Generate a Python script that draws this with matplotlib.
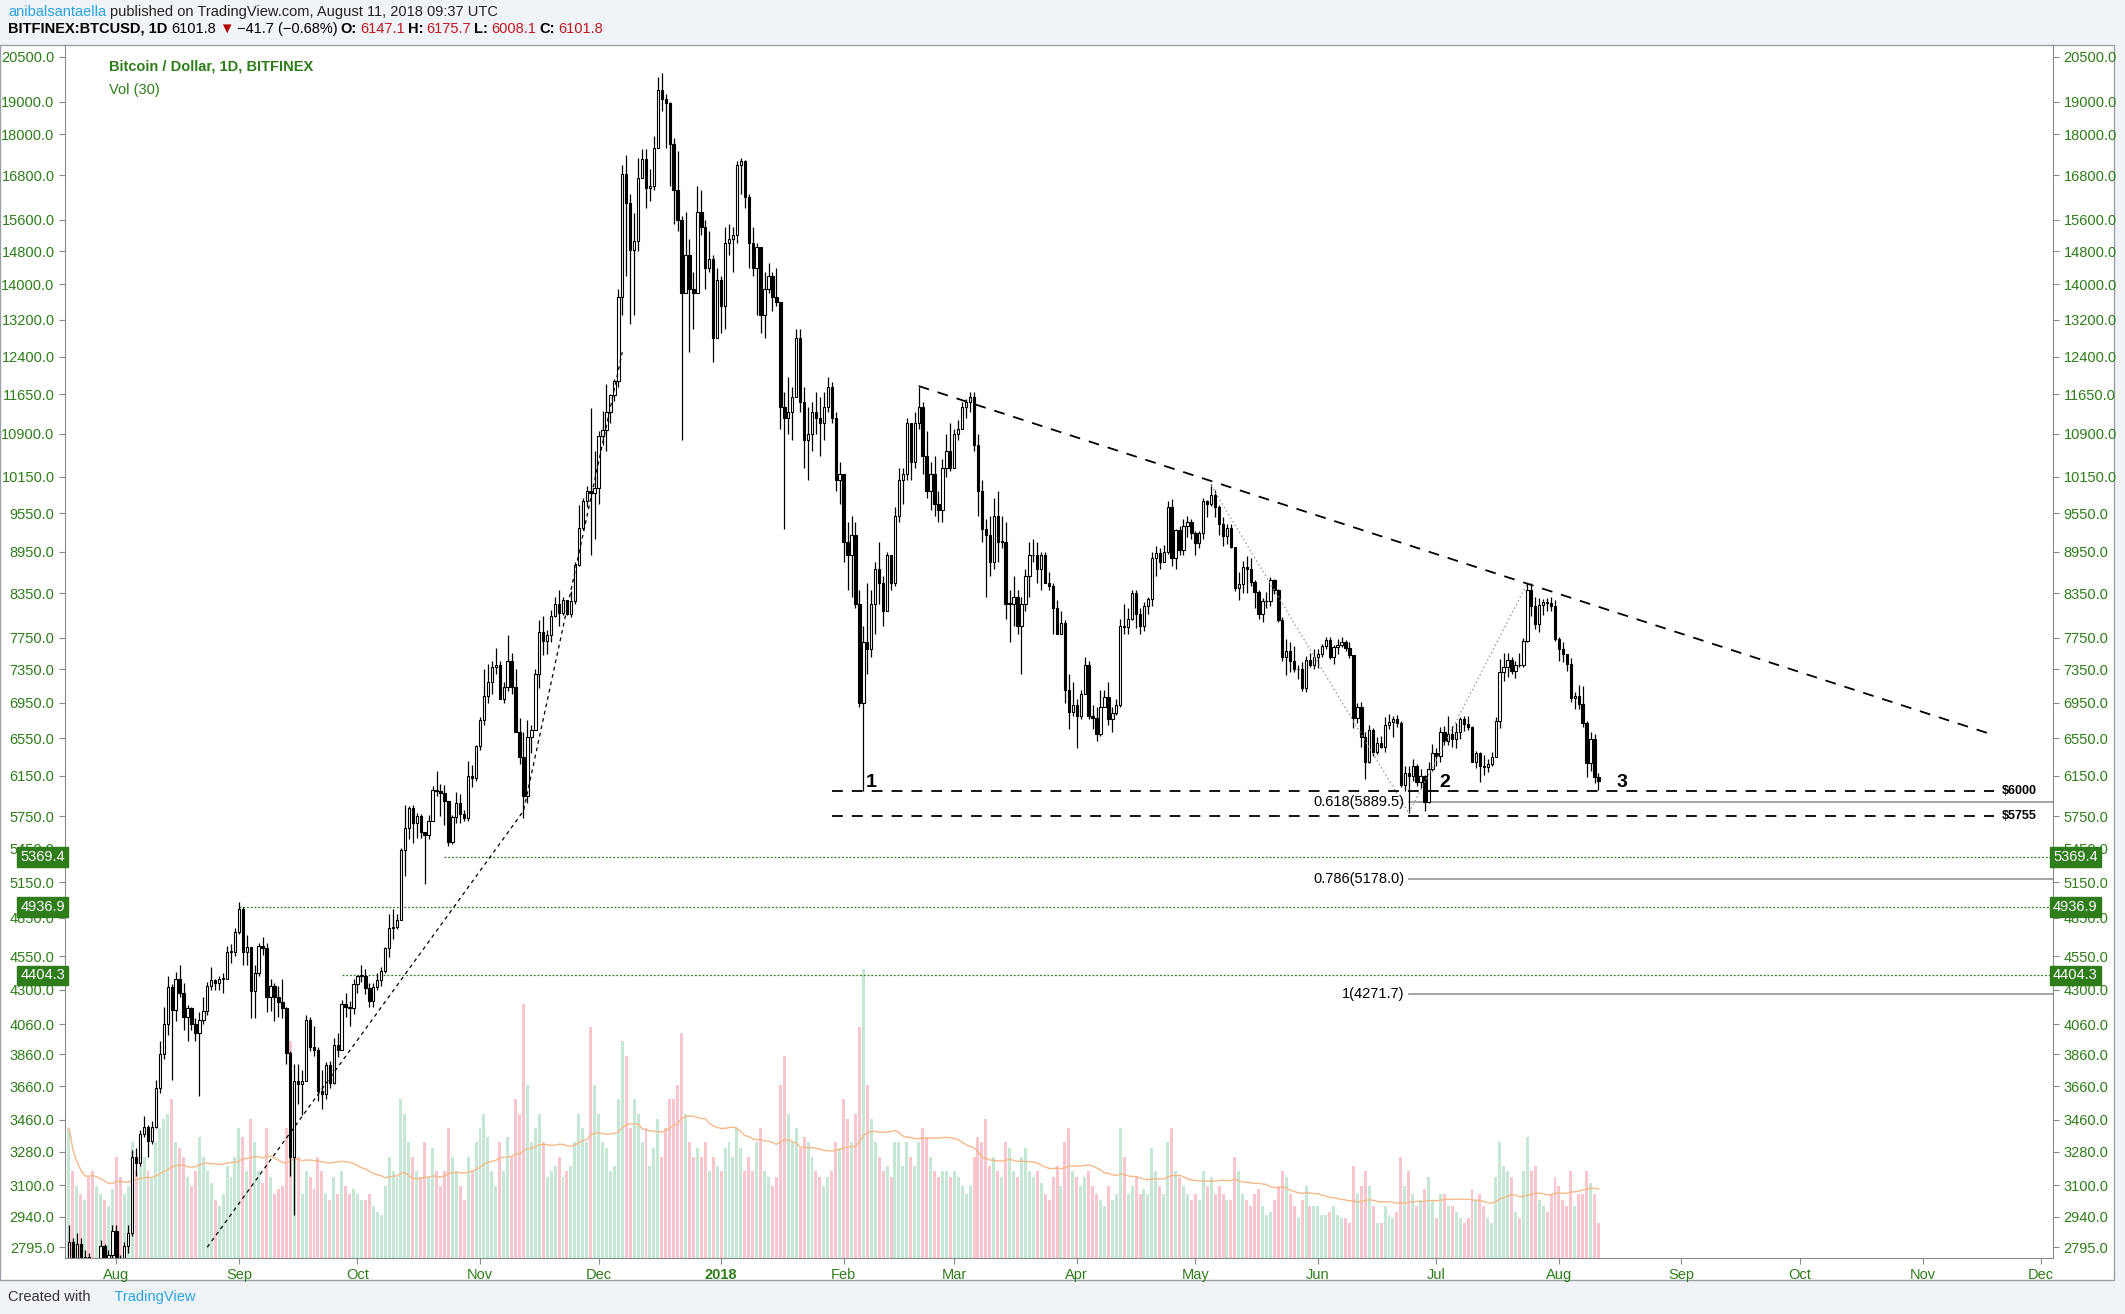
import matplotlib
matplotlib.use("Agg")
import matplotlib.pyplot as plt
import matplotlib.dates as mdates
import matplotlib.transforms as mtrans
from matplotlib.patches import Rectangle
import numpy as np
import datetime as dt

# ---------------- DATA ----------------
start_date = dt.date(2017, 7, 20)
first_open = 2660

close_2017_07 = [2820,2670,2810,2730,2750,2580,2540,2680,2800,2720,2760,2870]
high_2017_07 = [2900,2840,2860,2840,2780,2770,2600,2700,2830,2810,2780,2900]
low_2017_07 = [2620,2620,2650,2700,2700,2540,2480,2520,2660,2680,2650,2740]
close_2017_08 = [2720,2710,2800,2860,3250,3220,3380,3420,3340,3420,3650,3860,4060,4320,4160,4380,4280,4110,4170,4060,4000,4090,4150,4330,4370,4350,4380,4380,4580,4580,4740]
high_2017_08 = [2900,2760,2820,2900,3290,3300,3400,3480,3430,3450,3700,3950,4180,4400,4340,4430,4480,4350,4190,4180,4100,4140,4250,4360,4470,4380,4400,4420,4630,4640,4770]
low_2017_08 = [2680,2650,2690,2770,2850,3150,3200,3360,3250,3320,3410,3620,3830,3990,3700,4080,4250,4020,3950,4020,3950,3600,4060,4120,4300,4300,4300,4280,4380,4500,4550]
close_2017_09 = [4920,4580,4620,4290,4420,4630,4610,4250,4330,4250,4210,4170,3870,3250,3690,3670,3690,4090,3910,3890,3630,3610,3790,3680,3920,3890,4200,4180,4170,4340]
high_2017_09 = [4980,4940,4710,4620,4480,4650,4700,4650,4380,4350,4330,4380,4180,3880,3800,3800,3760,4120,4110,4050,3910,3760,3810,3820,3970,4000,4230,4280,4220,4380]
low_2017_09 = [4720,4480,4480,4100,4100,4400,4560,4140,4150,4080,4110,4100,3800,3150,2950,3550,3490,3690,3880,3850,3570,3520,3580,3650,3670,3840,3890,4110,4050,4130]
close_2017_10 = [4400,4400,4310,4220,4320,4370,4440,4610,4770,4780,4830,5430,5640,5830,5680,5750,5600,5570,5700,6010,6000,5980,5900,5510,5740,5880,5770,5730,6150,6130,6470]
high_2017_10 = [4410,4480,4450,4350,4350,4420,4470,4620,4880,4920,4880,5450,5860,5850,5860,5780,5770,5600,5760,6050,6200,6070,6060,5900,5760,5990,5970,5810,6310,6260,6480]
low_2017_10 = [4280,4360,4270,4180,4180,4300,4330,4420,4540,4680,4760,4840,5200,5530,5500,5540,5540,5130,5530,5710,5950,5750,5670,5470,5490,5680,5680,5700,5700,6040,6100]
close_2017_11 = [6750,7030,7200,7380,7410,6990,7140,7460,7140,6620,6350,5950,6560,6640,7300,7820,7710,7790,8040,8200,8080,8250,8070,8240,8760,9320,9740,9900,9870,9950]
high_2017_11 = [6790,7350,7420,7460,7620,7460,7200,7790,7560,7350,6780,6620,6750,6700,7350,7990,8040,7850,8120,8300,8390,8300,8260,8380,8800,9680,9800,9990,11380,10600]
low_2017_11 = [6420,6700,6950,7060,7300,6990,6950,7090,7050,6620,6270,5730,5880,6390,6650,7130,7530,7540,7700,8020,7900,8050,8050,8030,8200,8740,9280,9650,8900,9150]
close_2017_12 = [10860,10980,11310,11640,11910,13720,16850,16050,14840,15060,16730,17280,16460,16500,17600,19400,19100,18960,17700,16400,15600,13800,14700,13900,13800,15800,15400,14400,14600,12800,14100]
high_2017_12 = [10960,11320,11850,11650,11960,13890,17100,17400,16300,15780,17300,17550,17550,16980,17950,19800,19950,19250,19000,17900,17500,15700,15800,15100,14300,16500,16400,15600,15300,14700,14400]
low_2017_12 = [9700,10700,10600,11100,11520,11800,13300,14200,13100,13300,14800,16750,15900,16100,16400,17600,18700,17600,16500,15500,15300,10800,13800,12500,13000,13800,15200,13900,14300,12300,12900]
close_2018_01 = [13500,15000,15100,15200,17100,17200,16200,15000,14400,14900,13300,13900,14200,13700,13600,11400,11200,11300,11600,12800,11500,10800,10900,11300,11200,11100,11400,11800,11200,10100,10200]
high_2018_01 = [14200,15400,15500,15400,17200,17300,17250,16300,15400,15000,14900,14300,14500,14300,14400,13600,11700,12000,11800,13000,13000,11800,11400,11500,11700,11600,11700,12000,11900,11300,10400]
low_2018_01 = [12900,13000,14700,14300,15000,16300,15900,14400,14200,13300,12900,12800,13800,13400,13500,11000,9300,10900,10800,11600,11300,10300,10100,10600,10900,10500,10800,11300,11100,9900,9700]
close_2018_02 = [9100,8900,9200,8200,6950,7700,7600,8200,8700,8500,8100,8900,8500,9500,10100,10200,11100,10400,11100,11400,10500,9900,10200,9700,9600,10300,10600,10300]
high_2018_02 = [10200,9400,9500,9400,8400,7900,8500,8400,8800,9100,8600,8950,8900,9650,10300,10300,11200,11100,11300,11790,11500,10950,10400,10500,9900,10450,10900,11100]
low_2018_02 = [8800,8400,8300,8150,6900,6000,7300,7500,7800,8200,7900,8100,8400,8450,9400,9700,10100,10100,10300,11000,10200,9800,9600,9500,9400,9400,10150,10250]
close_2018_03 = [10900,11000,11400,11500,11600,10700,9900,9300,9200,8800,9500,9100,9100,8200,8200,8300,7900,8200,8600,8900,8900,8700,8900,8500,8450,8150,7800,7950,7100,6850,6930]
high_2018_03 = [11000,11150,11500,11550,11700,11700,10900,10100,9450,9500,9800,9900,9500,9400,8400,8600,8400,8300,8700,9100,9150,9100,8950,8950,8650,8500,8250,8100,7980,7300,7200]
low_2018_03 = [10300,10800,11000,11200,11300,10600,9500,9100,8300,8600,8700,8800,9000,8000,7700,7900,7800,7300,8100,8300,8800,8500,8400,8500,8400,7800,7800,7800,6950,6650,6800]
close_2018_04 = [6800,7050,7400,6800,6780,6600,6900,7020,6770,6830,6930,7900,7890,8000,8350,8060,7900,8170,8270,8860,8930,8800,8940,9650,8860,9280,8980,9350,9400,9240]
high_2018_04 = [7000,7100,7500,7450,6930,6900,7100,7100,7200,6900,7000,8000,8200,8150,8400,8400,8150,8230,8300,8950,9040,9000,9050,9750,9770,9290,9350,9450,9500,9460]
low_2018_04 = [6450,6760,7050,6760,6650,6520,6580,6900,6700,6620,6810,6900,7800,7800,7980,7880,7800,7840,8060,8180,8600,8700,8820,8920,8740,8700,8900,8900,9170,9150]
close_2018_05 = [9080,9230,9740,9700,9850,9650,9370,9190,9310,9020,8430,8480,8720,8690,8510,8370,8060,8240,8240,8530,8400,7990,7500,7580,7460,7350,7360,7130,7470,7400,7500]
high_2018_05 = [9260,9260,9800,9760,10020,9930,9680,9480,9370,9380,9020,8650,8810,8880,8850,8530,8400,8290,8370,8580,8550,8410,8030,7740,7690,7640,7400,7440,7520,7550,7600]
low_2018_05 = [8900,9010,9150,9480,9660,9480,9200,9040,9070,9000,8380,8250,8350,8350,8450,8150,8000,7960,8150,8180,8340,7960,7450,7280,7320,7320,7230,7090,7080,7380,7360]
close_2018_06 = [7540,7640,7720,7500,7630,7660,7690,7620,7530,6780,6900,6560,6300,6640,6400,6500,6460,6700,6730,6760,6720,6060,6180,6150,6250,6090,6150,5890,6220,6390]
high_2018_06 = [7600,7670,7760,7760,7660,7740,7760,7720,7690,7530,6950,6960,6620,6700,6660,6560,6580,6790,6820,6800,6810,6740,6250,6250,6330,6270,6220,6160,6300,6490]
low_2018_06 = [7370,7500,7600,7480,7420,7540,7630,7580,7490,6660,6720,6460,6120,6280,6360,6380,6440,6400,6650,6560,6680,6040,6000,5780,6100,6050,6030,5800,5880,6200]
close_2018_07 = [6360,6620,6520,6600,6540,6620,6760,6710,6670,6300,6390,6250,6240,6270,6350,6740,7320,7380,7470,7330,7410,7400,7710,8400,8170,7930,8190,8230,8220,8180,7730]
high_2018_07 = [6440,6680,6690,6800,6690,6720,6790,6800,6800,6690,6410,6400,6370,6330,6400,6790,7480,7560,7560,7510,7450,7560,7750,8490,8490,8300,8290,8270,8290,8300,8250]
low_2018_07 = [6250,6300,6480,6480,6460,6450,6540,6630,6640,6300,6230,6090,6160,6190,6250,6350,6660,7210,7260,7290,7240,7380,7380,7700,8040,7860,7830,8050,8110,8100,7710]
close_2018_08 = [7600,7540,7420,7010,7030,6940,6720,6280,6540,6140,6101.8]
high_2018_08 = [7760,7690,7540,7490,7080,7160,7150,6740,6620,6600,6175.7]
low_2018_08 = [7450,7440,7330,6960,6880,6880,6680,6140,6200,6080,6008.1]

vol_2017_07 = [45,30,25,22,20,28,30,25,22,20,18,24]
vol_2017_08 = [35,28,22,25,40,30,32,35,30,28,40,45,48,50,55,40,38,35,28,25,30,42,35,30,26,20,18,22,32,28,35]
vol_2017_09 = [45,42,30,48,40,30,26,45,28,22,24,25,45,75,60,35,22,30,28,24,35,30,22,20,28,22,30,25,22,24]
vol_2017_10 = [22,20,20,22,18,16,15,25,35,30,28,55,50,40,35,30,28,40,28,38,30,25,30,45,35,30,25,20,35,30,40]
vol_2017_11 = [45,50,42,30,25,40,30,42,35,55,50,88,60,40,45,50,40,28,30,32,35,28,30,32,40,50,45,40,80,60]
vol_2017_12 = [50,40,38,30,32,55,75,70,45,55,50,40,45,32,38,48,35,45,55,55,60,78,50,40,35,38,35,40,30,35,32]
vol_2018_01 = [30,38,40,35,45,38,30,35,30,40,45,30,28,25,28,60,70,50,40,45,38,42,40,35,30,28,25,28,30,40,38]
vol_2018_02 = [55,48,40,50,80,100,60,48,40,35,30,32,28,40,40,32,40,35,32,40,45,42,35,30,28,30,30,28]
vol_2018_03 = [30,28,25,22,25,35,42,40,48,32,35,30,28,40,38,30,28,35,38,30,28,30,26,22,20,28,32,25,40,45,30]
vol_2018_04 = [28,25,28,30,25,22,20,18,25,20,22,45,35,22,25,28,22,24,22,38,30,25,22,40,45,30,28,25,22,20]
vol_2018_05 = [22,20,30,25,28,22,25,22,20,20,35,30,22,20,18,22,24,18,15,16,20,25,30,28,22,18,14,20,25,18,18]
vol_2018_06 = [18,15,15,16,18,15,14,14,12,32,22,25,30,25,18,12,12,18,15,14,16,35,25,30,22,18,20,24,28,20]
vol_2018_07 = [14,22,22,18,18,16,14,12,14,24,20,22,18,14,12,28,40,32,30,28,16,14,30,42,30,32,20,18,16,22,28]
vol_2018_08 = [25,20,18,30,18,22,22,30,26,22,12]

y_ticks = [20500,19000,18000,16800,15600,14800,14000,13200,12400,11650,10900,10150,9550,8950,
           8350,7750,7350,6950,6550,6150,5750,5450,5150,4850,4550,4300,4060,3860,3660,3460,
           3280,3100,2940,2795]
levels_green = [5369.4, 4936.9, 4404.3]
fib_levels = [(0.618, 5889.5), (0.786, 5178.0), (1, 4271.7)]
support_levels = [6000, 5755]

# ---------------- ASSEMBLE ----------------
months = ["2017_07","2017_08","2017_09","2017_10","2017_11","2017_12","2018_01","2018_02",
          "2018_03","2018_04","2018_05","2018_06","2018_07","2018_08"]
g = globals()
closes = np.concatenate([g["close_" + m] for m in months]).astype(float)
highs = np.concatenate([g["high_" + m] for m in months]).astype(float)
lows = np.concatenate([g["low_" + m] for m in months]).astype(float)
vols = np.concatenate([g["vol_" + m] for m in months]).astype(float)
n = len(closes)
opens = np.concatenate([[first_open], closes[:-1]])
dates = [start_date + dt.timedelta(days=i) for i in range(n)]
x = mdates.date2num(dates)
highs = np.maximum(highs, np.maximum(opens, closes))
lows = np.minimum(lows, np.minimum(opens, closes))

def D(y, m, d):
    return mdates.date2num(dt.date(y, m, d))

plt.rcParams["font.family"] = "Liberation Sans"
GREEN = "#2e7d1a"
FS = 10.5
fig = plt.figure(figsize=(21.25, 13.14), dpi=100, facecolor="#f0f3f7")
panel = Rectangle((0.0, 1 - 1280/1314), 2114/2125, (1280-45)/1314,
                  transform=fig.transFigure, facecolor="white",
                  edgecolor="#9aa0a6", lw=1, zorder=-1)
fig.patches.append(panel)
ax = fig.add_axes([65/2125, 1 - 1258/1314, (2053-65)/2125, (1258-45)/1314])
ax.set_yscale("log")
ax.set_ylim(2745, 20900)
ax.set_xlim(D(2017, 7, 19), D(2018, 12, 4))

# volume on twin axis
axv = ax.twinx()
axv.set_ylim(0, 420)
axv.axis("off")
up = closes >= opens
axv.bar(x[up], vols[up], width=0.75, color="#9fd8b8", alpha=0.6, zorder=1)
axv.bar(x[~up], vols[~up], width=0.75, color="#f5a0ac", alpha=0.6, zorder=1)
ma = np.array([vols[max(0, i-29):i+1].mean() for i in range(n)])
axv.plot(x, ma, color="#f6b98a", lw=1)
ax.set_zorder(axv.get_zorder() + 1)
ax.patch.set_visible(False)

# candles
w = 0.6
for xi, o, h, l, c in zip(x, opens, highs, lows, closes):
    ax.vlines(xi, l, h, color="black", lw=0.9, zorder=3)
    lo, hi = min(o, c), max(o, c)
    if hi - lo < 1:
        hi = lo + 8
    ax.add_patch(Rectangle((xi - w/2, lo), w, hi - lo, facecolor="white" if c >= o else "black",
                           edgecolor="black", lw=0.8, zorder=4))

# trendlines
ax.plot([D(2018, 2, 20), D(2018, 11, 18)], [11810, 6600], ls=(0, (6, 5)), color="black", lw=1.3, zorder=5)
ax.plot([D(2017, 8, 24), D(2017, 11, 12), D(2017, 12, 7)], [2795, 5800, 12500],
        ls=(0, (3, 3)), color="black", lw=0.9, zorder=5)
ax.plot([D(2018, 5, 5), D(2018, 6, 24), D(2018, 7, 24)], [10000, 5780, 8490],
        ls=(0, (1, 2)), color="#999999", lw=1.0, zorder=5)
for lvl, lab in zip(support_levels, ["$6000", "$5755"]):
    ax.plot([D(2018, 1, 29), D(2018, 11, 19)], [lvl, lvl], ls=(0, (6, 5)), color="black", lw=1.3, zorder=5)
    ax.text(D(2018, 11, 21), lvl, lab, fontsize=9, fontweight="bold", va="center", ha="left", zorder=6)
for r, v in fib_levels:
    ax.plot([D(2018, 6, 24), D(2018, 12, 4)], [v, v], color="#8a8a8a", lw=1.1, zorder=2)
    ax.text(D(2018, 6, 23), v, f"{r}({v})", fontsize=FS, ha="right", va="center", zorder=6)
for lvl, start in zip(levels_green, [D(2017, 10, 23), D(2017, 9, 1), D(2017, 9, 27)]):
    ax.plot([start, D(2018, 12, 4)], [lvl, lvl], ls=(0, (1.5, 1.5)), color=GREEN, lw=0.9, zorder=2)
for lab, d in zip(["1", "2", "3"], [D(2018, 2, 8), D(2018, 7, 3), D(2018, 8, 17)]):
    ax.text(d, 6080, lab, fontsize=14, fontweight="bold", ha="center", va="center", zorder=6)

# axes styling
ax.spines["top"].set_visible(False)
for s in ["left", "right", "bottom"]:
    ax.spines[s].set_color("#8a8a8a")
ax.set_yticks(y_ticks)
ax.set_yticklabels([f"{t:.1f}" for t in y_ticks])
ax.yaxis.set_minor_locator(matplotlib.ticker.NullLocator())
ax.tick_params(axis="y", which="both", labelleft=True, labelright=True, left=True, right=True,
               labelcolor=GREEN, labelsize=FS, color="#8a8a8a", length=4)
month_ticks = [D(2017, m, 1) for m in range(8, 13)] + [D(2018, m, 1) for m in range(1, 13)]
month_labels = ["Aug", "Sep", "Oct", "Nov", "Dec", "2018", "Feb", "Mar", "Apr", "May", "Jun",
                "Jul", "Aug", "Sep", "Oct", "Nov", "Dec"]
ax.set_xticks(month_ticks)
ax.set_xticklabels(month_labels)
ax.tick_params(axis="x", labelcolor=GREEN, labelsize=FS, color="#8a8a8a", length=4)
for t in ax.get_xticklabels():
    if t.get_text() == "2018":
        t.set_fontweight("bold")

# axis value boxes
tr = mtrans.blended_transform_factory(ax.transAxes, ax.transData)
for lvl in levels_green:
    for xa, ha in [(0, "right"), (1, "left")]:
        ax.text(xa, lvl, f"{lvl:.1f}", transform=tr, ha=ha, va="center", fontsize=FS,
                color="white", zorder=10, clip_on=False,
                bbox=dict(boxstyle="square,pad=0.2", facecolor=GREEN, edgecolor=GREEN))

ax.text(0.022, 0.988, "Bitcoin / Dollar, 1D, BITFINEX", transform=ax.transAxes, color=GREEN,
        fontsize=FS, fontweight="bold", va="top")
ax.text(0.022, 0.969, "Vol (30)", transform=ax.transAxes, color=GREEN, fontsize=FS, va="top")

# header / footer laid out sequentially
renderer = fig.canvas.get_renderer()
def seq(y, parts, x0=0.004):
    xp = x0
    for txt, col, bold in parts:
        t = fig.text(xp, y, txt, color=col, fontsize=FS, va="center",
                     fontweight="bold" if bold else "normal")
        bb = t.get_window_extent(renderer)
        xp += bb.width / fig.bbox.width + 0.0015

seq(0.991, [("anibalsantaella", "#2aa3e0", False),
            ("published on TradingView.com, August 11, 2018 09:37 UTC", "#222222", False)])
seq(0.978, [("BITFINEX:BTCUSD, 1D", "black", True), ("6101.8", "black", False),
            ("\u25BC", "#b00000", False), ("\u221241.7 (\u22120.68%)", "black", False),
            ("O:", "black", True), ("6147.1", "#c0181f", False),
            ("H:", "black", True), ("6175.7", "#c0181f", False),
            ("L:", "black", True), ("6008.1", "#c0181f", False),
            ("C:", "black", True), ("6101.8", "#c0181f", False)])
seq(0.013, [("Created with", "#333333", False), ("     TradingView", "#2aa3e0", False)])

fig.savefig("out.png", dpi=100, facecolor=fig.get_facecolor())
